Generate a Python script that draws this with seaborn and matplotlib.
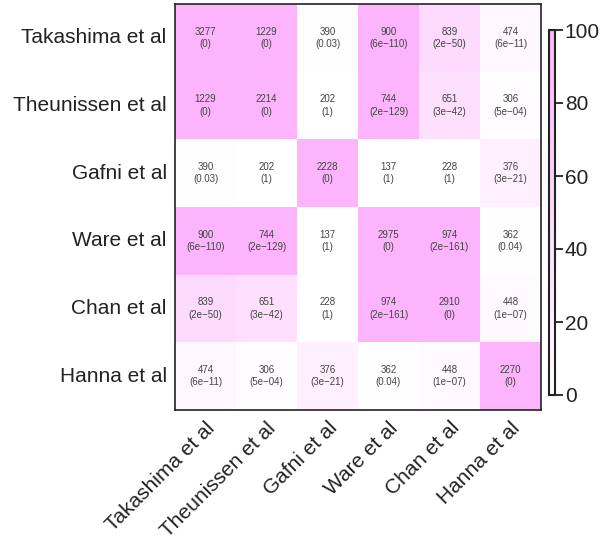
import numpy as np
import pandas as pd
import matplotlib
matplotlib.use("Agg")
import matplotlib.pyplot as plt
from matplotlib.colors import LinearSegmentedColormap
import seaborn as sns

studies = ["Takashima et al", "Theunissen et al", "Gafni et al",
           "Ware et al", "Chan et al", "Hanna et al"]

overlap = [
    [3277, 1229, 390, 900, 839, 474],
    [1229, 2214, 202, 744, 651, 306],
    [390, 202, 2228, 137, 228, 376],
    [900, 744, 137, 2975, 974, 362],
    [839, 651, 228, 974, 2910, 448],
    [474, 306, 376, 362, 448, 2270],
]

pvalues = [
    ["0", "0", "0.03", "6e-110", "2e-50", "6e-11"],
    ["0", "0", "1", "2e-129", "3e-42", "5e-04"],
    ["0.03", "1", "0", "1", "1", "3e-21"],
    ["6e-110", "2e-129", "1", "0", "2e-161", "0.04"],
    ["2e-50", "3e-42", "1", "2e-161", "0", "1e-07"],
    ["6e-11", "5e-04", "3e-21", "0.04", "1e-07", "0"],
]

# colour = -log10(p), capped at 100 (p == 0 treated as the cap)
cap = 100
p = np.array([[float(v) for v in row] for row in pvalues])
with np.errstate(divide="ignore"):
    score = np.minimum(-np.log10(p), cap)
score[np.isinf(score)] = cap
score = np.clip(score, 0, cap)

df = pd.DataFrame(score, index=studies, columns=studies)
annot = np.array([[f"{overlap[i][j]}\n({pvalues[i][j].replace('-', chr(0x2212))})"
                   for j in range(6)] for i in range(6)])

cmap = LinearSegmentedColormap.from_list("wp", ["#FFFFFF", "#FCB5FC"])

sns.set_style("white")
plt.rcParams["font.family"] = ["Liberation Sans", "DejaVu Sans"]

fig = plt.figure(figsize=(6.11, 5.48), dpi=100)
ax = fig.add_axes([175 / 611, 1 - 410 / 548, 366 / 611, 406 / 548])
cax = fig.add_axes([549 / 611, 1 - 395 / 548, 6 / 611, 365 / 548])

sns.heatmap(df, ax=ax, cbar_ax=cax, cmap=cmap, vmin=0, vmax=cap,
            annot=annot, fmt="",
            annot_kws={"fontsize": 7, "color": "#444444", "linespacing": 1.3},
            cbar_kws={"ticks": [0, 20, 40, 60, 80, 100]})

for s in ax.spines.values():
    s.set_visible(True)
    s.set_color("#222222")
    s.set_linewidth(1.2)

ax.tick_params(axis="both", length=0, labelsize=15, colors="#222222")
ax.set_yticklabels(studies, rotation=0)
ax.set_xticklabels(studies, rotation=45, ha="right", rotation_mode="anchor")
ax.tick_params(axis="x", pad=6)
ax.tick_params(axis="y", pad=6)
ax.set_xlabel("")
ax.set_ylabel("")

cb = ax.collections[0].colorbar
cb.outline.set_visible(True)
cb.outline.set_edgecolor("#222222")
cb.outline.set_linewidth(1.5)
cax.tick_params(labelsize=15, length=6, width=1.3, pad=1, colors="#222222")

fig.savefig("out.png", dpi=100)
